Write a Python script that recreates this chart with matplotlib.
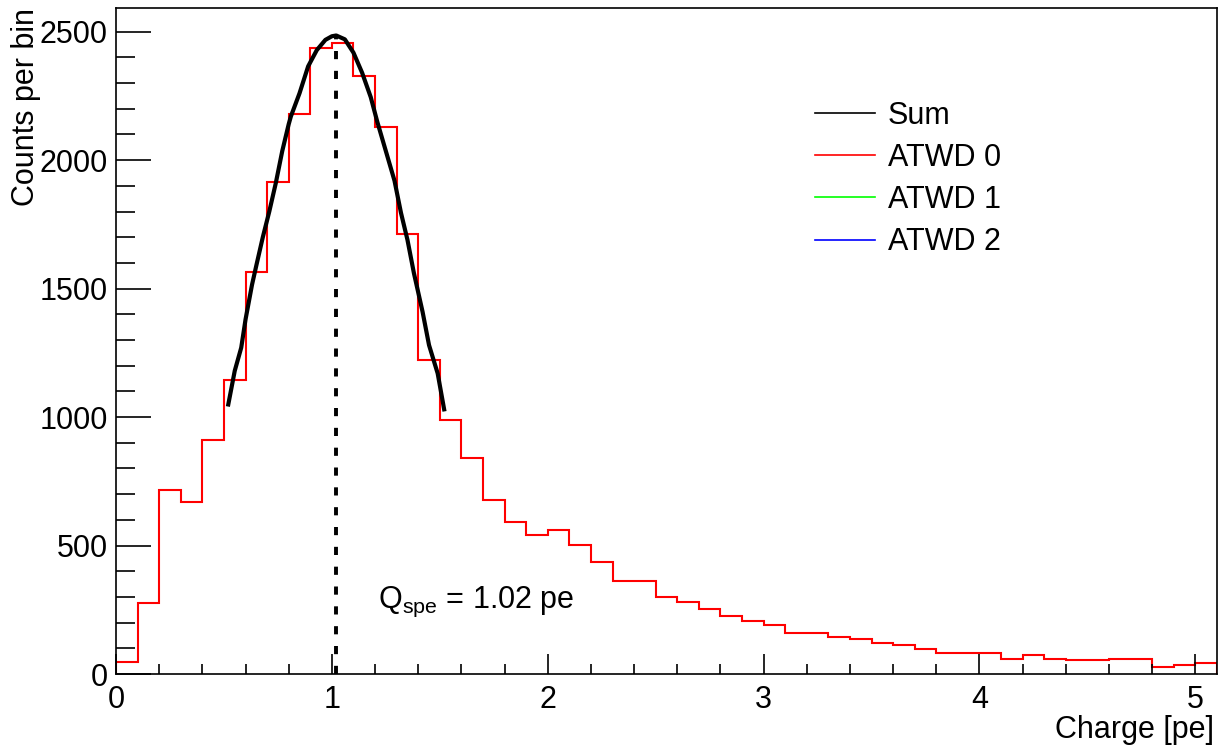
import matplotlib.pyplot as plt
from matplotlib.lines import Line2D
from matplotlib.ticker import MultipleLocator
import numpy as np

plt.rcParams['font.family'] = ['Liberation Sans', 'DejaVu Sans']
plt.rcParams['mathtext.fontset'] = 'custom'
plt.rcParams['mathtext.rm'] = 'Liberation Sans'
plt.rcParams['mathtext.it'] = 'Liberation Sans:italic'

# charge histogram, bins of 0.1 pe from 0 to 5.1
bin_lo = 0.0
bin_hi = 5.1
counts = [45, 277, 715, 669, 910, 1146, 1565, 1915, 2179, 2438,
          2455, 2329, 2127, 1714, 1223, 989, 840, 678, 590, 542,
          560, 503, 434, 363, 363, 301, 279, 253, 224, 208,
          191, 161, 161, 143, 137, 120, 113, 97, 83, 83,
          83, 60, 74, 60, 53, 53, 60, 60, 29, 35, 44]

# fitted curve
fit_x = [0.52, 0.55, 0.58, 0.60, 0.63, 0.65, 0.68, 0.71, 0.74, 0.77,
         0.80, 0.81, 0.85, 0.89, 0.93, 0.97, 1.00, 1.02, 1.06, 1.10,
         1.14, 1.18, 1.21, 1.25, 1.29, 1.32, 1.35, 1.38, 1.42, 1.45,
         1.49, 1.52]
fit_y = [1049, 1180, 1270, 1380, 1515, 1590, 1700, 1800, 1910, 2035,
         2140, 2170, 2260, 2365, 2428, 2468, 2482, 2485, 2470, 2418,
         2340, 2245, 2150, 2035, 1920, 1795, 1690, 1560, 1410, 1280,
         1170, 1030]

q_spe = 1.02
q_peak = 2485

legend_labels = ['Sum', 'ATWD 0', 'ATWD 1', 'ATWD 2']
legend_colors = ['black', '#ff0000', '#00ff00', '#0000ff']

fs = 22

fig = plt.figure(figsize=(12.2, 7.47), dpi=100)
ax = fig.add_axes([0.0951, 0.0977, 0.9024, 0.8916])

edges = np.linspace(bin_lo, bin_hi, len(counts) + 1)
ax.stairs(counts, edges, color='#ff0000', lw=1.5)
ax.plot(fit_x, fit_y, color='black', lw=3.0, solid_joinstyle='round')
ax.plot([q_spe, q_spe], [0, q_peak], color='black', lw=2.8, dashes=(2.1, 3.0))

ax.text(1.214, 256, r'Q$_{\mathrm{spe}}$ = 1.02 pe', fontsize=fs, ha='left', va='baseline')

ax.set_xlim(bin_lo, bin_hi)
ax.set_ylim(0, 2592)

ax.xaxis.set_major_locator(MultipleLocator(1))
ax.xaxis.set_minor_locator(MultipleLocator(0.2))
ax.yaxis.set_major_locator(MultipleLocator(500))
ax.yaxis.set_minor_locator(MultipleLocator(100))
ax.tick_params(axis='x', which='major', direction='in', length=14.4, width=1.2, pad=7.9, labelsize=fs)
ax.tick_params(axis='x', which='minor', direction='in', length=7.2, width=1.2)
ax.tick_params(axis='y', which='major', direction='in', length=25, width=1.2, pad=5.8, labelsize=fs)
ax.tick_params(axis='y', which='minor', direction='in', length=13.4, width=1.2)
for s in ax.spines.values():
    s.set_linewidth(1.2)

ax.set_xlabel('Charge [pe]', fontsize=fs, loc='right')
ax.set_ylabel('Counts per bin', fontsize=fs, loc='top')
ax.xaxis.set_label_coords(0.997, -0.0616)
ax.yaxis.set_label_coords(-0.0685, 1.0)

handles = [Line2D([], [], color=c, lw=1.2) for c in legend_colors]
ax.legend(handles, legend_labels, loc='upper left', bbox_to_anchor=(0.635, 0.861),
          frameon=False, fontsize=fs, borderpad=0, borderaxespad=0,
          handlelength=1.96, handletextpad=0.42, labelspacing=0.4)

fig.savefig('out.png', dpi=100)
